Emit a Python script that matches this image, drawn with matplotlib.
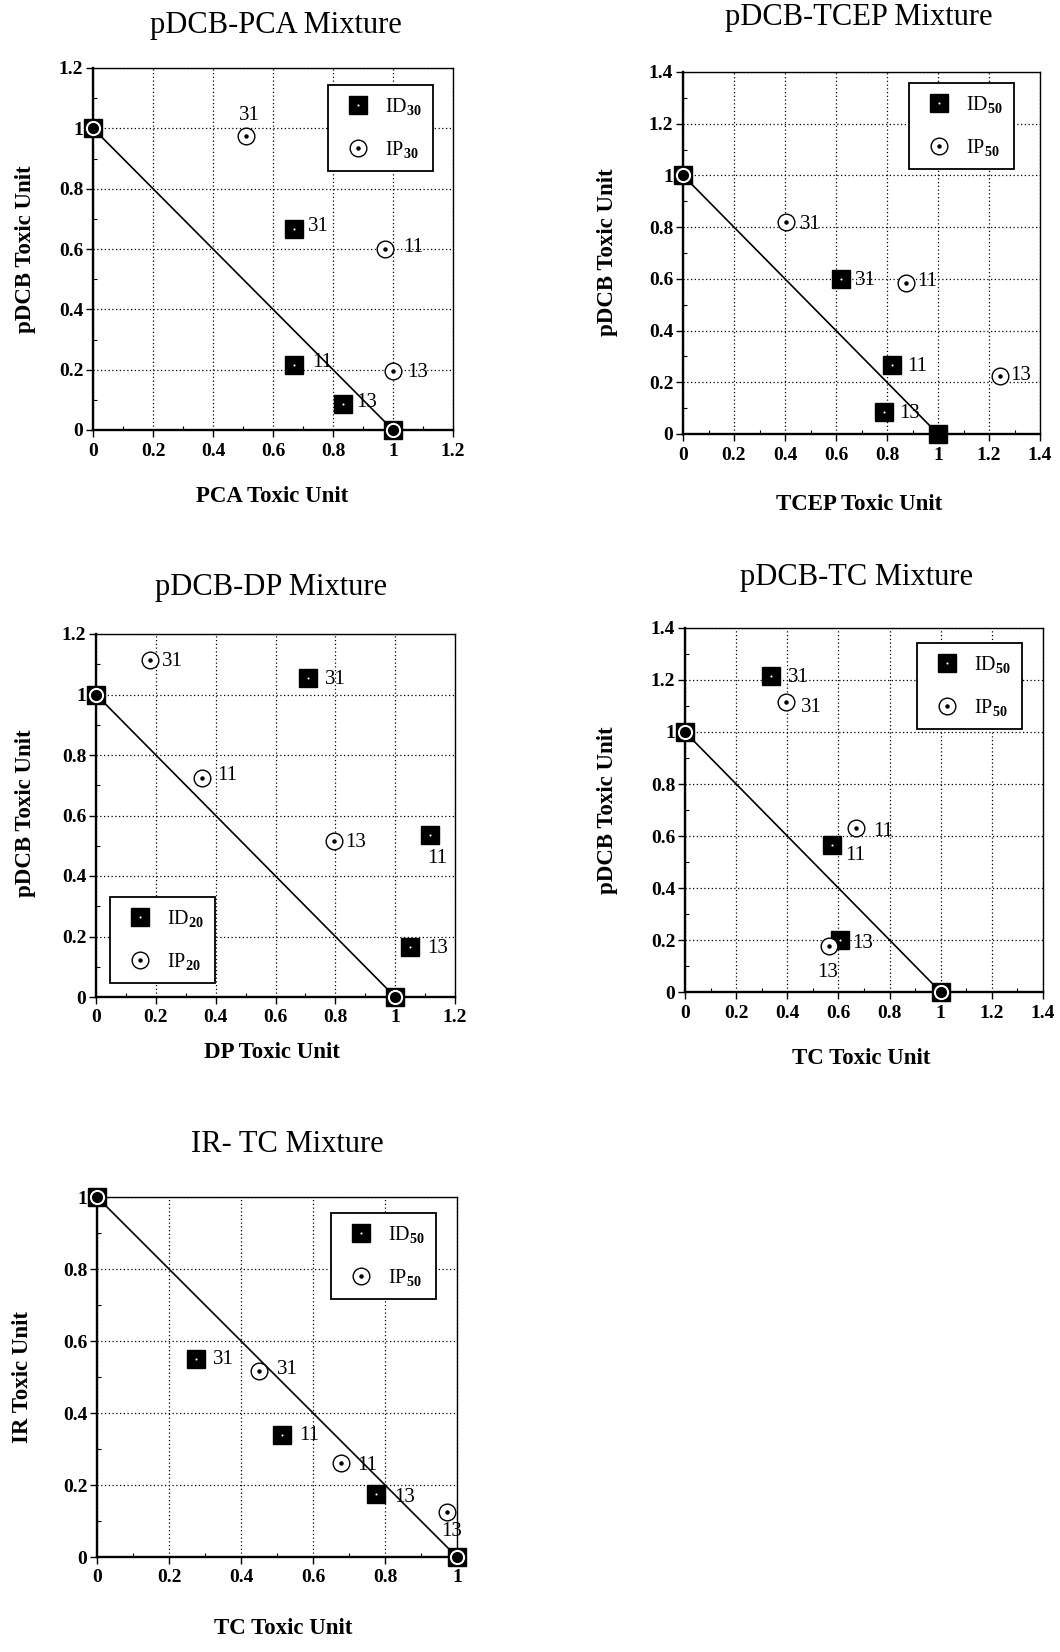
import matplotlib
matplotlib.use('Agg')
import matplotlib.pyplot as plt
from matplotlib.ticker import MultipleLocator, FuncFormatter

plt.rcParams['font.family'] = ['Liberation Serif', 'DejaVu Serif']
plt.rcParams['font.weight'] = 'bold'
plt.rcParams['mathtext.fontset'] = 'custom'
plt.rcParams['mathtext.rm'] = 'Liberation Serif'
plt.rcParams['mathtext.it'] = 'Liberation Serif:italic'
plt.rcParams['mathtext.bf'] = 'Liberation Serif:bold'

W, H = 1060, 1652

# Additivity line joining the single-compound toxic units
ref_x = [0.0, 1.0]
ref_y = [1.0, 0.0]

# Mixture ratio labels (endpoints are the single compounds)
ratio_lab = ['', '31', '11', '13', '']

# pDCB-PCA mixture
pca_id_x = [0.0, 0.67, 0.67, 0.835, 1.0]
pca_id_y = [1.0, 0.665, 0.215, 0.085, 0.0]
pca_ip_x = [0.0, 0.51, 0.975, 1.0, 1.0]
pca_ip_y = [1.0, 0.975, 0.60, 0.195, 0.0]

# pDCB-TCEP mixture
tcep_id_x = [0.0, 0.62, 0.82, 0.79, 1.0]
tcep_id_y = [1.0, 0.60, 0.265, 0.085, 0.0]
tcep_ip_x = [0.0, 0.405, 0.875, 1.245]
tcep_ip_y = [1.0, 0.82, 0.585, 0.225]

# pDCB-DP mixture
dp_id_x = [0.0, 0.71, 1.115, 1.05, 1.0]
dp_id_y = [1.0, 1.055, 0.535, 0.165, 0.0]
dp_ip_x = [0.0, 0.18, 0.355, 0.795, 1.0]
dp_ip_y = [1.0, 1.115, 0.725, 0.515, 0.0]

# pDCB-TC mixture
tc_id_x = [0.0, 0.335, 0.575, 0.605, 1.0]
tc_id_y = [1.0, 1.215, 0.565, 0.20, 0.0]
tc_ip_x = [0.0, 0.395, 0.67, 0.565, 1.0]
tc_ip_y = [1.0, 1.115, 0.63, 0.178, 0.0]

# IR-TC mixture
ir_id_x = [0.0, 0.275, 0.515, 0.775, 1.0]
ir_id_y = [1.0, 0.55, 0.34, 0.175, 0.0]
ir_ip_x = [0.0, 0.45, 0.677, 0.972, 1.0]
ir_ip_y = [1.0, 0.518, 0.26, 0.124, 0.0]

# Label offsets in pixels (dx, dy) for each point
pca_id_off = [None, (24, 3), (28, 3), (23, 2), None]
pca_ip_off = [None, (3, 20), (28, 2), (25, -1), None]
tcep_id_off = [None, (24, -2), (25, -1), (25, -1), None]
tcep_ip_off = [None, (24, -3), (21, 1), (20, 0)]
dp_id_off = [None, (27, -2), (8, -23), (27, -1), None]
dp_ip_off = [None, (23, -2), (25, 2), (22, -1), None]
tc_id_off = [None, (28, -1), (23, -10), (23, -3), None]
tc_ip_off = [None, (25, -5), (27, -3), (-2, -27), None]
ir_id_off = [None, (27, -1), (27, -1), (29, -3), None]
ir_ip_off = [None, (28, 1), (26, -2), (5, -19), None]

panels = [
    dict(box=(93, 453, 68, 430), xmax=1.2, ymax=1.2,
         title='pDCB-PCA Mixture', title_at=(276, 25),
         xlabel='PCA Toxic Unit', xlabel_at=(272, 497),
         ylabel='pDCB Toxic Unit', ylabel_at=(25, 249),
         legend_at=(328, 85), sub='30',
         idx=pca_id_x, idy=pca_id_y, ipx=pca_ip_x, ipy=pca_ip_y,
         idoff=pca_id_off, ipoff=pca_ip_off),
    dict(box=(683, 1040, 72, 434), xmax=1.4, ymax=1.4,
         title='pDCB-TCEP Mixture', title_at=(859, 18),
         xlabel='TCEP Toxic Unit', xlabel_at=(859, 505),
         ylabel='pDCB Toxic Unit', ylabel_at=(607, 252),
         legend_at=(909, 83), sub='50',
         idx=tcep_id_x, idy=tcep_id_y, ipx=tcep_ip_x, ipy=tcep_ip_y,
         idoff=tcep_id_off, ipoff=tcep_ip_off),
    dict(box=(96, 455, 634, 997), xmax=1.2, ymax=1.2,
         title='pDCB-DP Mixture', title_at=(271, 587),
         xlabel='DP Toxic Unit', xlabel_at=(272, 1053),
         ylabel='pDCB Toxic Unit', ylabel_at=(25, 813),
         legend_at=(110, 897), sub='20',
         idx=dp_id_x, idy=dp_id_y, ipx=dp_ip_x, ipy=dp_ip_y,
         idoff=dp_id_off, ipoff=dp_ip_off),
    dict(box=(685, 1043, 628, 992), xmax=1.4, ymax=1.4,
         title='pDCB-TC Mixture', title_at=(857, 578),
         xlabel='TC Toxic Unit', xlabel_at=(861, 1058),
         ylabel='pDCB Toxic Unit', ylabel_at=(607, 810),
         legend_at=(917, 643), sub='50',
         idx=tc_id_x, idy=tc_id_y, ipx=tc_ip_x, ipy=tc_ip_y,
         idoff=tc_id_off, ipoff=tc_ip_off),
    dict(box=(97, 457, 1197, 1557), xmax=1.0, ymax=1.0,
         title='IR- TC Mixture', title_at=(287, 1145),
         xlabel='TC Toxic Unit', xlabel_at=(283, 1628),
         ylabel='IR Toxic Unit', ylabel_at=(23, 1377),
         legend_at=(331, 1213), sub='50',
         idx=ir_id_x, idy=ir_id_y, ipx=ir_ip_x, ipy=ir_ip_y,
         idoff=ir_id_off, ipoff=ir_ip_off),
]


def fig_xy(x, y):
    return x / W, 1 - y / H


fig = plt.figure(figsize=(W / 100, H / 100), dpi=100)
fmt = FuncFormatter(lambda v, p: f'{v:g}')


def draw_panel(p):
    l, r, t, b = p['box']
    ax = fig.add_axes([l / W, 1 - b / H, (r - l) / W, (b - t) / H])
    ax.set_xlim(0, p['xmax'])
    ax.set_ylim(0, p['ymax'])
    for axis in (ax.xaxis, ax.yaxis):
        axis.set_major_locator(MultipleLocator(0.2))
        axis.set_minor_locator(MultipleLocator(0.1))
        axis.set_major_formatter(fmt)
    ax.grid(True, which='major', color='k', linestyle=(0, (1, 2)), linewidth=0.9)
    ax.tick_params(which='major', direction='out', length=5, width=1,
                   labelsize=14, color='k')
    ax.tick_params(axis='y', which='major', pad=2)
    ax.tick_params(axis='x', which='major', pad=4)
    ax.tick_params(which='minor', direction='in', length=3, width=0.8)
    for side in ('left', 'bottom'):
        ax.spines[side].set_linewidth(1.7)
    for side in ('top', 'right'):
        ax.spines[side].set_linewidth(1.0)

    # additivity line and its end points
    ax.plot(ref_x, ref_y, color='k', lw=1.2, zorder=2.5, clip_on=False)
    ax.plot(ref_x, ref_y, ls='none', marker='o', ms=7, mfc='k', mec='k',
            zorder=6, clip_on=False)

    sq, = ax.plot(p['idx'], p['idy'], ls='none', marker='s', ms=12.5,
                  mfc='k', mec='k', zorder=3, clip_on=False)
    sqdot, = ax.plot(p['idx'], p['idy'], ls='none', marker='o', ms=1.5,
                     mfc='w', mec='none', zorder=3.1, clip_on=False)
    ci, = ax.plot(p['ipx'], p['ipy'], ls='none', marker='o', ms=12,
                  mfc='w', mec='k', mew=1.0, zorder=4, clip_on=False)
    cidot, = ax.plot(p['ipx'], p['ipy'], ls='none', marker='o', ms=2.2,
                     mfc='k', mec='k', zorder=4.1, clip_on=False)

    for xs, ys, offs in ((p['idx'], p['idy'], p['idoff']),
                         (p['ipx'], p['ipy'], p['ipoff'])):
        for x, y, lab, off in zip(xs, ys, ratio_lab, offs):
            if not lab:
                continue
            ax.annotate(lab, (x, y), xytext=off, textcoords='offset pixels',
                        ha='center', va='center', fontsize=15,
                        fontweight='normal', zorder=8, annotation_clip=False)

    leg = ax.legend([(sq, sqdot), (ci, cidot)],
                    [f'ID$_{{{p["sub"]}}}$', f'IP$_{{{p["sub"]}}}$'],
                    loc='upper left', bbox_to_anchor=fig_xy(*p['legend_at']),
                    bbox_transform=fig.transFigure, borderaxespad=0,
                    frameon=True, fancybox=False, edgecolor='k', framealpha=1,
                    prop={'size': 14.5, 'weight': 'normal'}, labelspacing=1.1,
                    handlelength=1.9, handletextpad=0.4, borderpad=0.55,
                    numpoints=1)
    leg.get_frame().set_linewidth(1.3)
    leg.set_zorder(7)

    fig.text(*fig_xy(*p['title_at']), p['title'], ha='center', va='center',
             fontsize=22, fontweight='normal')
    fig.text(*fig_xy(*p['xlabel_at']), p['xlabel'], ha='center', va='center',
             fontsize=16.5, fontweight='bold')
    fig.text(*fig_xy(*p['ylabel_at']), p['ylabel'], ha='center', va='center',
             rotation=90, fontsize=16.5, fontweight='bold')


for p in panels:
    draw_panel(p)

fig.savefig('out.png', dpi=100)
